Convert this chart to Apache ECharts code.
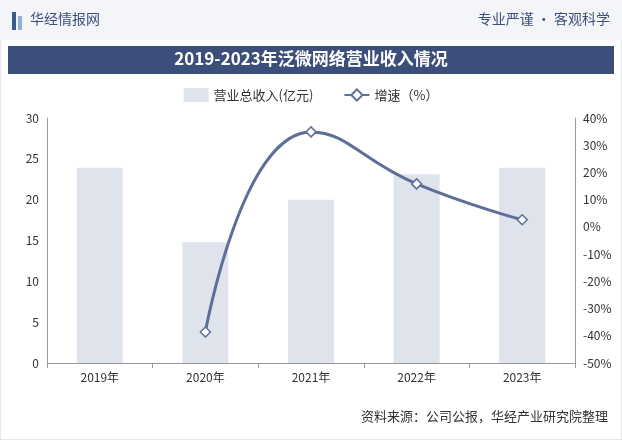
<!DOCTYPE html>
<html><head><meta charset="utf-8">
<script src="https://cdn.jsdelivr.net/npm/echarts@6/dist/echarts.min.js"></script>
<style>body{margin:0;background:#fff}#c{width:622px;height:440px}</style>
</head><body><div id="c"></div>
<script>
var years = ['2019年','2020年','2021年','2022年','2023年'];
var revenue = [23.9, 14.8, 20.0, 23.1, 23.9];
var growth = [null, -38.6, 34.9, 15.8, 2.6];

var chart = echarts.init(document.getElementById('c'));
chart.setOption({
    textStyle: {fontFamily: 'Noto Sans CJK SC'},
    graphic: [
        {type: 'rect', shape: {x: 0, y: 0, width: 622, height: 440}, style: {fill: 'none', stroke: '#c9cfdc', lineWidth: 1}},
        {type: 'rect', shape: {x: 0, y: 0, width: 622, height: 40}, style: {fill: '#f3f5f9'}},
        {type: 'rect', shape: {x: 12, y: 12, width: 4, height: 18}, style: {fill: '#3d5a8f'}},
        {type: 'rect', shape: {x: 18, y: 16, width: 4, height: 14}, style: {fill: '#8fb0dc'}},
        {type: 'text', left: 30, top: 12, style: {text: '华经情报网', fill: '#3d4f7c', font: '14px "Noto Sans CJK SC"'}},
        {type: 'text', right: 12, top: 12, style: {text: '专业严谨 • 客观科学', fill: '#3d4f7c', font: '14px "Noto Sans CJK SC"'}},
        {type: 'rect', shape: {x: 8, y: 46, width: 606, height: 28}, style: {fill: '#3c4e7a'}},
        {type: 'text', left: 'center', top: 50, style: {text: '2019-2023年泛微网络营业收入情况', fill: '#fff', font: 'bold 17px "Noto Sans CJK SC"'}},
        {type: 'text', right: 14, top: 410, style: {text: '资料来源：公司公报，华经产业研究院整理', fill: '#333', font: '13px "Noto Sans CJK SC"'}}
    ],
    legend: {
        top: 83, left: 'center', itemGap: 30,
        textStyle: {fontSize: 13, color: '#333'},
        data: [{name: '营业总收入(亿元)', icon: 'rect'}, {name: '增速（%）'}]
    },
    grid: {left: 47, right: 47, top: 118, bottom: 77},
    xAxis: {
        type: 'category', data: years,
        axisLine: {lineStyle: {color: '#999'}},
        axisTick: {show: true, lineStyle: {color: '#999'}},
        axisLabel: {color: '#333', fontSize: 12}
    },
    yAxis: [
        {type: 'value', min: 0, max: 30, interval: 5,
         axisLine: {show: true, lineStyle: {color: '#999'}},
         axisLabel: {color: '#333', fontSize: 12}, splitLine: {show: false}},
        {type: 'value', min: -50, max: 40, interval: 10,
         axisLine: {show: true, lineStyle: {color: '#999'}},
         axisLabel: {color: '#333', fontSize: 12, formatter: '{value}%'}, splitLine: {show: false}}
    ],
    series: [
        {name: '营业总收入(亿元)', type: 'bar', data: revenue, barWidth: 46,
         itemStyle: {color: '#dfe3ec'}},
        {name: '增速（%）', type: 'line', yAxisIndex: 1, data: growth, smooth: true,
         symbol: 'diamond', symbolSize: 10,
         lineStyle: {color: '#5d6f98', width: 3},
         itemStyle: {color: '#fff', borderColor: '#5d6f98', borderWidth: 1.5}}
    ]
});
</script></body></html>
